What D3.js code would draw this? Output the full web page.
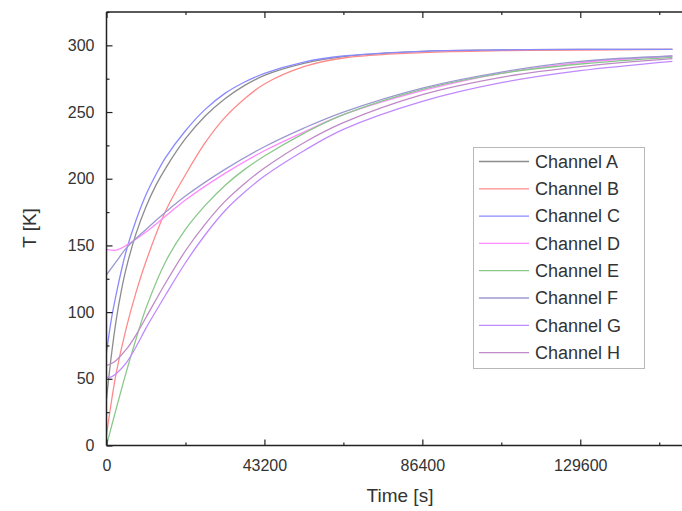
<!DOCTYPE html>
<html>
<head>
<meta charset="utf-8">
<script src="https://cdn.jsdelivr.net/npm/d3@7/dist/d3.min.js"></script>
<style>
html,body{margin:0;padding:0;background:#fff;}
svg{display:block;}
text{font-family:"Liberation Sans",Arial,sans-serif;fill:#333;}
</style>
</head>
<body>
<svg id="chart" width="682" height="511"></svg>
<script>
// ---- data ----
const channels = ["Channel A","Channel B","Channel C","Channel D","Channel E","Channel F","Channel G","Channel H"];
const colors = ["#8c8c8c","#ff8a8a","#8a8aff","#ff8aff","#8ac88a","#9a9ad0","#c08aff","#c08ac8"];

const timeA = [0,1350,2700,4050,5400,8100,10800,13500,16200,21600,27000,32400,37800,43200,54000,64800,86400,108000,129600,154800];
const tempA = [35,68,95,116,133,159,179,195,208,230,247,260,270,277.5,286.5,291.5,295.5,296.5,297,297];
const timeB = [0,1350,2700,5400,8100,10800,16200,21600,27000,32400,37800,43200,54000,64800,86400,108000,129600,154800];
const tempB = [8,33,55,88,115,138,176,203,227,246,260,271,284,290.5,294.5,296,296.5,297];
const timeC = [0,1350,2700,4050,5400,8100,10800,13500,16200,21600,27000,32400,37800,43200,54000,64800,86400,108000,129600,154800];
const tempC = [70,95,114,131,146,169,188,203,216,236,252,264,272.5,279,287.5,292,295.5,296.5,297,297];
const timeD = [0,2700,5400,10800,16200,21600,32400,43200,54000,64800,86400,108000,129600,154800];
const tempD = [147,146.5,150,160,172,184,204,221,235,248,266,279,287,292];
const timeE = [0,2700,5400,8100,10800,16200,21600,27000,32400,37800,43200,54000,64800,86400,108000,129600,154800];
const tempE = [0,28,55,80,103,138,162,180,195,207,217,234,248,267,279,286,291];
const timeF = [0,2700,5400,10800,16200,21600,32400,43200,54000,64800,86400,108000,129600,154800];
const tempF = [128,138,148,162,175,187,207,224,238,250,268,280,288,292];
const timeG = [0,1350,2700,5400,8100,10800,16200,21600,27000,32400,37800,43200,54000,64800,86400,108000,129600,154800];
const tempG = [51,51.5,54,62,74,88,113,137,158,176,190,202,221,237,258,272,281,288];
const timeH = [0,1350,2700,5400,8100,10800,16200,21600,27000,32400,37800,43200,54000,64800,86400,108000,129600,154800];
const tempH = [60,61.5,64,72,83,96,122,146,166,183,196.5,208,227,242,263,276,284,290];

const xTicks = [0,43200,86400,129600];
const xMinor = [21600,64800,108000,151200];
const yTicks = [0,50,100,150,200,250,300];
const yMinor = [25,75,125,175,225,275,325];

const seriesTimes = [timeA,timeB,timeC,timeD,timeE,timeF,timeG,timeH];
const seriesTemps = [tempA,tempB,tempC,tempD,tempE,tempF,tempG,tempH];

// ---- layout ----
const L = 106.5, T = 12, B = 445.5, R = 700;
const x = d3.scaleLinear().domain([0,162350]).range([L,R]);
const y = d3.scaleLinear().domain([0,325]).range([B,T]);

const svg = d3.select("#chart");
svg.append("defs").append("clipPath").attr("id","clip")
  .append("rect").attr("x",L).attr("y",T).attr("width",R-L).attr("height",B-T);

// lines
const line = d3.line().x(d=>x(d[0])).y(d=>y(d[1])).curve(d3.curveCatmullRom.alpha(0.5));
const g = svg.append("g").attr("clip-path","url(#clip)");
channels.forEach((c,i)=>{
  const pts = seriesTimes[i].map((t,j)=>[t,seriesTemps[i][j]]);
  g.append("path").datum(pts).attr("d",line)
    .attr("fill","none").attr("stroke",colors[i]).attr("stroke-width",1.3);
});

// axes (ticks pointing inward)
const axisColor = "#222";
function styleAxis(sel){
  sel.select(".domain").remove();
  sel.selectAll("line").attr("stroke",axisColor).attr("stroke-width",1.2);
  sel.selectAll("text").style("font-size","16px").attr("fill","#333");
}
const xAxis = svg.append("g").attr("transform",`translate(0,${B})`)
  .call(d3.axisBottom(x).tickValues(xTicks).tickSize(-6).tickPadding(14).tickFormat(d3.format("d")));
styleAxis(xAxis);
xAxis.selectAll("text").attr("dy","0.71em");
const xAxisMinor = svg.append("g").attr("transform",`translate(0,${B})`)
  .call(d3.axisBottom(x).tickValues(xMinor).tickSize(-3).tickFormat(""));
styleAxis(xAxisMinor);
const xTop = svg.append("g").attr("transform",`translate(0,${T})`)
  .call(d3.axisTop(x).tickValues(xTicks).tickSize(-6).tickFormat(""));
styleAxis(xTop);
const xTopMinor = svg.append("g").attr("transform",`translate(0,${T})`)
  .call(d3.axisTop(x).tickValues(xMinor).tickSize(-3).tickFormat(""));
styleAxis(xTopMinor);

const yAxis = svg.append("g").attr("transform",`translate(${L},0)`)
  .call(d3.axisLeft(y).tickValues(yTicks).tickSize(-6).tickPadding(12).tickFormat(d3.format("d")));
styleAxis(yAxis);
const yAxisMinor = svg.append("g").attr("transform",`translate(${L},0)`)
  .call(d3.axisLeft(y).tickValues(yMinor).tickSize(-3).tickFormat(""));
styleAxis(yAxisMinor);

// frame lines
svg.append("line").attr("x1",L).attr("x2",L).attr("y1",T).attr("y2",B).attr("stroke",axisColor).attr("stroke-width",1.5);
svg.append("line").attr("x1",L).attr("x2",R).attr("y1",B).attr("y2",B).attr("stroke",axisColor).attr("stroke-width",1.5);
svg.append("line").attr("x1",L).attr("x2",R).attr("y1",T).attr("y2",T).attr("stroke",axisColor).attr("stroke-width",1.5);

// axis titles
svg.append("text").attr("x",400).attr("y",502).attr("text-anchor","middle")
  .style("font-size","19px").text("Time [s]");
svg.append("text").attr("transform","translate(36,228) rotate(-90)").attr("text-anchor","middle")
  .style("font-size","19px").text("T [K]");

// legend
const lg = svg.append("g");
lg.append("rect").attr("x",473.5).attr("y",147.5).attr("width",171).attr("height",221)
  .attr("fill","#fff").attr("stroke","#b8b8b8").attr("stroke-width",1);
channels.forEach((c,i)=>{
  const yy = 161.5 + i*27.3;
  lg.append("line").attr("x1",479).attr("x2",529).attr("y1",yy).attr("y2",yy)
    .attr("stroke",colors[i]).attr("stroke-width",1.3);
  lg.append("text").attr("x",535).attr("y",yy).attr("dy","0.35em")
    .style("font-size","18px").attr("fill","#222").text(c);
});
</script>
</body>
</html>
